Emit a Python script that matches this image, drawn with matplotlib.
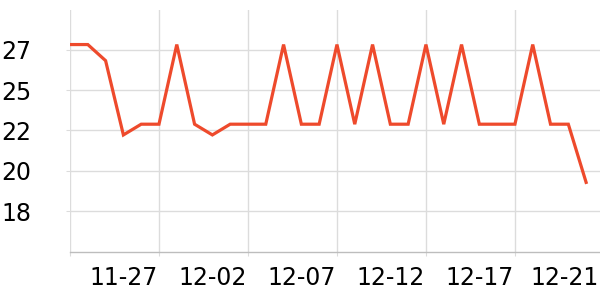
import matplotlib
matplotlib.use("Agg")
import matplotlib.pyplot as plt
import matplotlib.transforms as mtransforms
import numpy as np

# ---- data ----
dates = ["11-22", "11-23", "11-24", "11-25", "11-26", "11-27", "11-28", "11-29", "11-30",
         "12-01", "12-02", "12-03", "12-04", "12-05", "12-06", "12-07", "12-08", "12-09",
         "12-10", "12-11", "12-12", "12-13", "12-14", "12-15", "12-16", "12-17", "12-18",
         "12-19", "12-20", "12-21"]
values = [27.3, 27.3, 26.4, 22.25, 22.85, 22.85, 27.3, 22.85, 22.25, 22.85,
          22.85, 22.85, 27.3, 22.85, 22.85, 27.3, 22.85, 27.3, 22.85, 22.85,
          27.3, 22.85, 27.3, 22.85, 22.85, 22.85, 27.3, 22.85, 22.85, 19.6]
y_ticks = [18, 20.25, 22.5, 24.75, 27]
y_labels = ["18", "20", "22", "25", "27"]
x_tick_idx = [0, 5, 10, 15, 20, 25]
last_label_idx = 29

fig = plt.figure(figsize=(6, 3), dpi=100)
ax = fig.add_axes([70 / 600, 48 / 300, 530 / 600, 242 / 300])

x = np.arange(len(values))
ax.plot(x, values, color="#ee4a2c", lw=2.3, solid_joinstyle="miter", zorder=3)

ax.set_xlim(0, 29.78)
ax.set_ylim(15.71, 29.23)

ax.set_yticks(y_ticks)
ax.set_yticklabels(y_labels)
ax.set_xticks(x_tick_idx)
ax.set_xticklabels(["" if i == 0 else dates[i] for i in x_tick_idx])
ax.set_xticks([last_label_idx], minor=True)
ax.set_xticklabels([dates[last_label_idx]], minor=True)

grid_c = "#dcdcdc"
ax.grid(True, which="major", color=grid_c, lw=1)
ax.set_axisbelow(True)
for s in ["top", "right", "left"]:
    ax.spines[s].set_visible(False)
ax.spines["bottom"].set_color("#bdbdbd")
ax.spines["bottom"].set_linewidth(1)

fs = 17
ax.tick_params(axis="y", which="major", length=3, color=grid_c, pad=25, labelsize=fs)
ax.tick_params(axis="x", which="major", length=3, color=grid_c, pad=7, labelsize=fs)
ax.tick_params(axis="x", which="minor", length=0, pad=10, labelsize=fs)

for lab in ax.get_xticklabels():
    lab.set_ha("right")
    lab.set_transform(lab.get_transform() + mtransforms.ScaledTranslation(-1 / 100, 0, fig.dpi_scale_trans))
for lab in ax.get_xticklabels(minor=True):
    lab.set_ha("right")
    lab.set_transform(lab.get_transform() + mtransforms.ScaledTranslation(13 / 100, 0, fig.dpi_scale_trans))

fig.savefig("out.png", dpi=100)
